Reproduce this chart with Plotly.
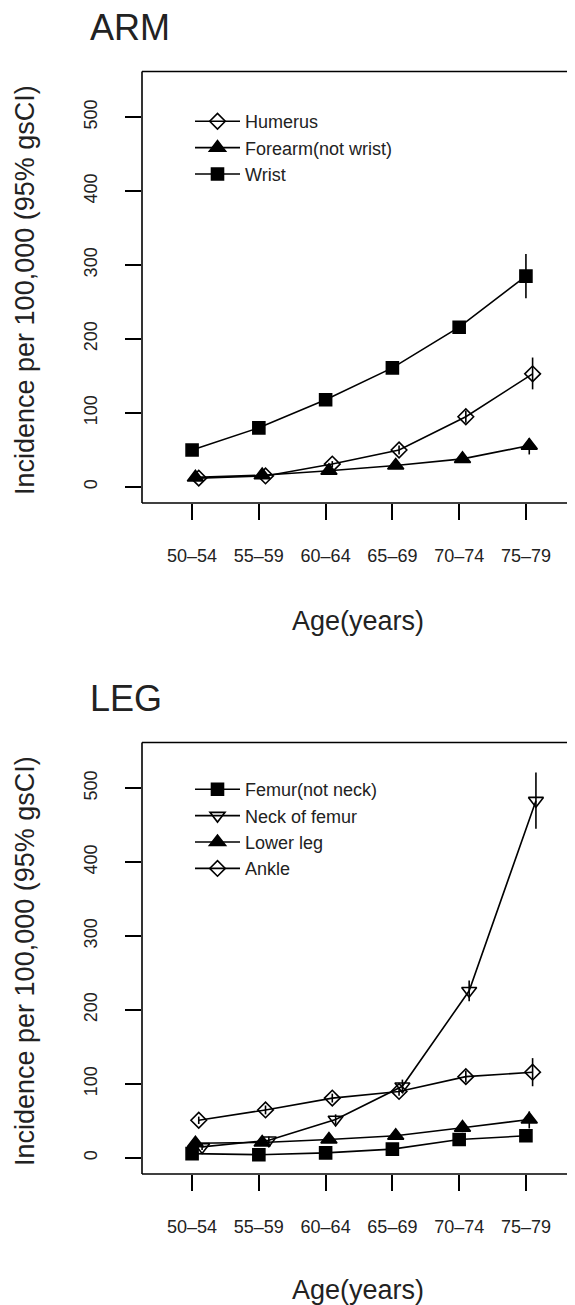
import plotly.graph_objects as go

# ---------------- data ----------------
age_groups = ["50–54", "55–59", "60–64", "65–69", "70–74", "75–79"]
y_ticks = [0, 100, 200, 300, 400, 500]

# ARM panel (incidence per 100,000 with 95% CI)
humerus = [12, 15, 31, 50, 95, 153]
humerus_lo = [10, 12, 27, 44, 87, 132]
humerus_hi = [15, 18, 35, 56, 103, 175]

forearm = [13, 16, 22, 29, 38, 56]
forearm_lo = [11, 14, 19, 26, 34, 44]
forearm_hi = [15, 18, 25, 33, 43, 66]

wrist = [50, 80, 118, 161, 216, 285]
wrist_lo = [46, 76, 113, 155, 208, 255]
wrist_hi = [55, 85, 123, 167, 224, 315]

# LEG panel
femur = [6, 4.5, 7, 12, 25, 30]
femur_lo = [4, 3, 5, 9, 21, 25]
femur_hi = [8, 6, 9, 15, 29, 36]

neck = [15, 24, 52, 97, 226, 483]
neck_lo = [11, 19, 45, 88, 212, 445]
neck_hi = [19, 29, 59, 106, 240, 521]

lower_leg = [20, 21, 25, 30, 41, 52]
lower_leg_lo = [17, 18, 21, 26, 35, 40]
lower_leg_hi = [23, 24, 29, 34, 47, 63]

ankle = [51, 65, 81, 90, 110, 116]
ankle_lo = [46, 59, 75, 84, 102, 97]
ankle_hi = [56, 71, 87, 96, 118, 135]

# ---------------- layout helpers ----------------
PAGE_MARGIN = 8            # default <body> margin of the written html page
W, H = 575 - PAGE_MARGIN, 1305 - PAGE_MARGIN
FONT = "Liberation Sans, Arial, Helvetica, sans-serif"


def fx(p):
    return (p - PAGE_MARGIN) / W


def fy(p):
    return 1 - (p - PAGE_MARGIN) / H


positions = list(range(1, len(age_groups) + 1))


def make_trace(name, vals, lo, hi, symbol, size, offset, xa, ya, legend):
    xs = [p + offset for p in positions]
    return go.Scatter(
        x=xs, y=vals, name=name, mode="lines+markers",
        xaxis=xa, yaxis=ya, legend=legend,
        line=dict(color="black", width=1.6),
        marker=dict(symbol=symbol, size=size, color="black",
                    line=dict(color="black", width=1.6)),
        error_y=dict(type="data", symmetric=False,
                     array=[h - v for h, v in zip(hi, vals)],
                     arrayminus=[v - l for v, l in zip(vals, lo)],
                     color="black", thickness=1.6, width=0),
    )


fig = go.Figure()

# ARM
fig.add_trace(make_trace("Humerus", humerus, humerus_lo, humerus_hi,
                         "diamond-open", 12, 0.10, "x", "y", "legend"))
fig.add_trace(make_trace("Forearm(not wrist)", forearm, forearm_lo, forearm_hi,
                         "triangle-up", 14, 0.05, "x", "y", "legend"))
fig.add_trace(make_trace("Wrist", wrist, wrist_lo, wrist_hi,
                         "square", 12, 0.0, "x", "y", "legend"))

# LEG
fig.add_trace(make_trace("Femur(not neck)", femur, femur_lo, femur_hi,
                         "square", 12, 0.0, "x2", "y2", "legend2"))
fig.add_trace(make_trace("Neck of femur", neck, neck_lo, neck_hi,
                         "triangle-down-open", 13, 0.15, "x2", "y2", "legend2"))
fig.add_trace(make_trace("Lower leg", lower_leg, lower_leg_lo, lower_leg_hi,
                         "triangle-up", 14, 0.05, "x2", "y2", "legend2"))
fig.add_trace(make_trace("Ankle", ankle, ankle_lo, ankle_hi,
                         "diamond-open", 12, 0.10, "x2", "y2", "legend2"))

PANEL_OFFSET = 671
box_left, box_right = 142, 574
box_top, box_bottom = 71.5, 503

xaxis_common = dict(
    range=[0.25, 6.72], tickmode="array", tickvals=positions, ticktext=age_groups,
    ticks="outside", ticklen=16, tickwidth=1.6, tickcolor="black",
    showline=False, showgrid=False, zeroline=False,
    tickfont=dict(family=FONT, size=18, color="#222"),
    ticklabelstandoff=20, fixedrange=True,
)
yaxis_common = dict(
    range=[-21.6, 561.6], tickmode="array", tickvals=y_ticks,
    ticktext=[str(v) for v in y_ticks],
    ticks="outside", ticklen=16, tickwidth=1.6, tickcolor="black",
    showline=False, showgrid=False, zeroline=False, tickangle=-90,
    tickfont=dict(family=FONT, size=18, color="#222"),
    ticklabelstandoff=21, fixedrange=True,
)

legend_common = dict(xanchor="left", yanchor="top", bgcolor="rgba(0,0,0,0)",
                     font=dict(family=FONT, size=18, color="#222"),
                     tracegroupgap=0, itemclick=False, itemwidth=45)

fig.update_layout(
    width=W, height=H, margin=dict(l=0, r=0, t=0, b=0),
    paper_bgcolor="white", plot_bgcolor="white",
    font=dict(family=FONT, color="#222"),
    xaxis=dict(domain=[fx(box_left), fx(box_right)], anchor="y", **xaxis_common),
    yaxis=dict(domain=[fy(box_bottom), fy(box_top)], anchor="x", **yaxis_common),
    xaxis2=dict(domain=[fx(box_left), fx(box_right)], anchor="y2", **xaxis_common),
    yaxis2=dict(domain=[fy(box_bottom + PANEL_OFFSET), fy(box_top + PANEL_OFFSET)],
                anchor="x2", **yaxis_common),
    legend=dict(x=fx(190), y=fy(103), **legend_common),
    legend2=dict(x=fx(190), y=fy(771), **legend_common),
    showlegend=True,
)

shapes = []
annotations = []
for title, off, xoff in [("ARM", 0, 0), ("LEG", PANEL_OFFSET, -2)]:
    t, b = box_top + off, box_bottom + off
    for (x0, y0, x1, y1, col, w) in [
        (box_left, t, box_right, t, "black", 1.6),
        (box_left, b, box_right, b, "black", 1.6),
        (box_left, t, box_left, b, "black", 1.6),
        (box_right, t, box_right, b, "#999", 1.0),
    ]:
        shapes.append(dict(type="line", xref="paper", yref="paper",
                           x0=fx(x0), y0=fy(y0), x1=fx(x1), y1=fy(y1),
                           line=dict(color=col, width=w)))
    annotations.append(dict(text=title, xref="paper", yref="paper",
                            x=fx(88), y=fy(27 + off), xanchor="left", yanchor="middle",
                            showarrow=False, font=dict(family=FONT, size=36, color="#222")))
    annotations.append(dict(text="Incidence per 100,000 (95% gsCI)", xref="paper", yref="paper",
                            x=fx(25), y=fy(290 + off), xanchor="center", yanchor="middle",
                            textangle=-90, showarrow=False,
                            font=dict(family=FONT, size=27, color="#222")))
    annotations.append(dict(text="Age(years)", xref="paper", yref="paper",
                            x=fx(358), y=fy(621 + off + xoff), xanchor="center", yanchor="middle",
                            showarrow=False, font=dict(family=FONT, size=27, color="#222")))

fig.update_layout(shapes=shapes, annotations=annotations)

fig.write_html("out.html")
